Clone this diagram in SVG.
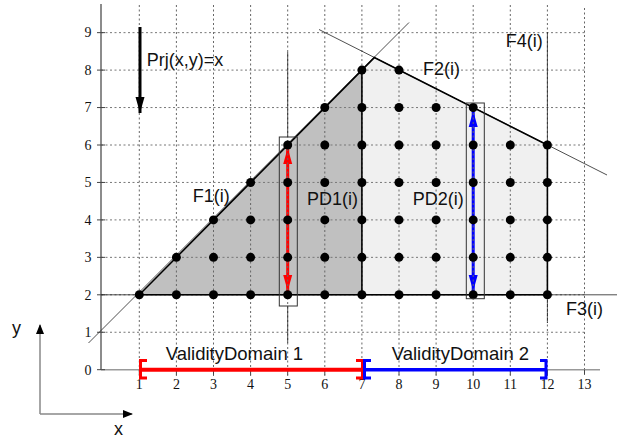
<svg xmlns="http://www.w3.org/2000/svg" width="617" height="438" viewBox="0 0 617 438">
<defs>
<style>
.gv{stroke:#666;stroke-width:1;stroke-dasharray:2 2.5;fill:none}
.gh{stroke:#777;stroke-width:1;stroke-dasharray:2 2.5;fill:none}
.bd{stroke:#000;stroke-width:1.6;fill:none}
.thin{stroke:#222;stroke-width:0.8;fill:none}
.ax{stroke:#666;stroke-width:1.5;fill:none}
.tk{stroke:#444;stroke-width:1;fill:none}
.num{font-family:"Liberation Serif",serif;font-size:14px;fill:#111;text-anchor:middle}
.lbl{font-family:"Liberation Sans",Arial,sans-serif;font-size:18px;fill:#111}
.dot{fill:#000}
.box{stroke:#333;stroke-width:1;fill:none}
</style>
<marker id="ab" viewBox="0 0 10 10" refX="9" refY="5" markerWidth="10" markerHeight="10" markerUnits="userSpaceOnUse" orient="auto"><path d="M0,1 L10,5 L0,9 z" fill="#000"/></marker>
<marker id="ar" viewBox="0 0 16 10" refX="16" refY="5" markerWidth="16" markerHeight="10" markerUnits="userSpaceOnUse" orient="auto-start-reverse"><path d="M0,0.5 L16,5 L0,9.5 z" fill="#f00"/></marker>
<marker id="abl" viewBox="0 0 16 10" refX="16" refY="5" markerWidth="16" markerHeight="10" markerUnits="userSpaceOnUse" orient="auto-start-reverse"><path d="M0,0.5 L16,5 L0,9.5 z" fill="#00f"/></marker>
<marker id="ak" viewBox="0 0 16 10" refX="16" refY="5" markerWidth="16" markerHeight="10" markerUnits="userSpaceOnUse" orient="auto"><path d="M0,0.5 L16,5 L0,9.5 z" fill="#000"/></marker>
</defs>

<g id="regions">
<polygon points="139.3,294.8 361.9,70.1 361.9,294.8" fill="#c0c0c0"/>
<polygon points="361.9,294.8 361.9,70.1 374.3,57.6 547.4,145 547.4,294.8" fill="#f0f0f0"/>
</g>

<g id="domain-arrows">
<line x1="287.7" y1="148" x2="287.7" y2="291" stroke="#f00" stroke-width="3" marker-start="url(#ar)" marker-end="url(#ar)"/>
<line x1="473.2" y1="111" x2="473.2" y2="291" stroke="#00f" stroke-width="3" marker-start="url(#abl)" marker-end="url(#abl)"/>
</g>

<g id="grid">
<path class="gv" d="M139.3,5V376M176.4,5V376M213.5,5V376M250.6,5V376M287.7,5V376M324.8,5V376M361.9,5V376M399,5V376M436.1,5V376M473.2,5V376M510.3,5V376M547.4,5V376M584.5,8V376"/>
<path class="gh" d="M101,332.25H587M101,294.8H587M101,257.35H587M101,219.9H587M101,182.45H587M101,145H587M101,107.55H587M101,70.1H587M101,32.65H587"/>
</g>

<g id="axes">
<line class="ax" x1="101" y1="4" x2="101" y2="370"/>
<line x1="101" y1="369.7" x2="600" y2="369.7" stroke="#999" stroke-width="1.5"/>
<path class="tk" d="M97,369.7H105M97,332.25H105M97,294.8H105M97,257.35H105M97,219.9H105M97,182.45H105M97,145H105M97,107.55H105M97,70.1H105M97,32.65H105"/>
<path class="tk" d="M139.3,369.7v5M176.4,369.7v5M213.5,369.7v5M250.6,369.7v5M287.7,369.7v5M324.8,369.7v5M361.9,369.7v5M399,369.7v5M436.1,369.7v5M473.2,369.7v5M510.3,369.7v5M547.4,369.7v5M584.5,369.7v5"/>
<g class="num">
<text x="88" y="374.5">0</text><text x="88" y="337">1</text><text x="88" y="299.5">2</text><text x="88" y="262">3</text><text x="88" y="224.5">4</text><text x="88" y="187">5</text><text x="88" y="149.7">6</text><text x="88" y="112.3">7</text><text x="88" y="74.8">8</text><text x="88" y="37.4">9</text>
<text x="139.3" y="389">1</text><text x="176.4" y="389">2</text><text x="213.5" y="389">3</text><text x="250.6" y="389">4</text><text x="287.7" y="389">5</text><text x="324.8" y="389">6</text><text x="361.9" y="389">7</text><text x="399" y="389">8</text><text x="436.1" y="389">9</text><text x="473.2" y="389">10</text><text x="510.3" y="389">11</text><text x="547.4" y="389">12</text><text x="584.5" y="389">13</text>
</g>
</g>

<g id="connectors">
<line class="thin" x1="88.5" y1="343" x2="409" y2="22.5"/>
<line class="thin" x1="319" y1="29.5" x2="607" y2="175"/>
<line class="thin" x1="101" y1="294.8" x2="617" y2="294.8"/>
<line class="thin" x1="547.4" y1="32" x2="547.4" y2="145"/>
<line x1="547.4" y1="295" x2="547.4" y2="323" stroke="#222" stroke-width="1" stroke-dasharray="3 1.5"/>
<line class="thin" x1="287.7" y1="52" x2="287.7" y2="137"/>
<line class="thin" x1="287.7" y1="306" x2="287.7" y2="343"/>
<polyline class="bd" points="139.3,294.8 374.3,57.6 547.4,145 547.4,294.8 139.3,294.8"/>
<line class="bd" x1="361.9" y1="70.1" x2="361.9" y2="294.8"/>
<line x1="140" y1="27" x2="140" y2="113" stroke="#000" stroke-width="3" marker-end="url(#ak)"/>
<line x1="40" y1="414" x2="40" y2="325" stroke="#888" stroke-width="1.5" marker-end="url(#ab)"/>
<line x1="40" y1="414" x2="132" y2="414" stroke="#888" stroke-width="1.5" marker-end="url(#ab)"/>
</g>

<g id="points">
<circle class="dot" cx="139.3" cy="294.8" r="4.5"/>
<circle class="dot" cx="176.4" cy="294.8" r="4.5"/><circle class="dot" cx="176.4" cy="257.35" r="4.5"/>
<circle class="dot" cx="213.5" cy="294.8" r="4.5"/><circle class="dot" cx="213.5" cy="257.35" r="4.5"/><circle class="dot" cx="213.5" cy="219.9" r="4.5"/>
<circle class="dot" cx="250.6" cy="294.8" r="4.5"/><circle class="dot" cx="250.6" cy="257.35" r="4.5"/><circle class="dot" cx="250.6" cy="219.9" r="4.5"/><circle class="dot" cx="250.6" cy="182.45" r="4.5"/>
<circle class="dot" cx="287.7" cy="294.8" r="4.5"/><circle class="dot" cx="287.7" cy="257.35" r="4.5"/><circle class="dot" cx="287.7" cy="219.9" r="4.5"/><circle class="dot" cx="287.7" cy="182.45" r="4.5"/><circle class="dot" cx="287.7" cy="145" r="4.5"/>
<circle class="dot" cx="324.8" cy="294.8" r="4.5"/><circle class="dot" cx="324.8" cy="257.35" r="4.5"/><circle class="dot" cx="324.8" cy="219.9" r="4.5"/><circle class="dot" cx="324.8" cy="182.45" r="4.5"/><circle class="dot" cx="324.8" cy="145" r="4.5"/><circle class="dot" cx="324.8" cy="107.55" r="4.5"/>
<circle class="dot" cx="361.9" cy="294.8" r="4.5"/><circle class="dot" cx="361.9" cy="257.35" r="4.5"/><circle class="dot" cx="361.9" cy="219.9" r="4.5"/><circle class="dot" cx="361.9" cy="182.45" r="4.5"/><circle class="dot" cx="361.9" cy="145" r="4.5"/><circle class="dot" cx="361.9" cy="107.55" r="4.5"/><circle class="dot" cx="361.9" cy="70.1" r="4.5"/>
<circle class="dot" cx="399" cy="294.8" r="4.5"/><circle class="dot" cx="399" cy="257.35" r="4.5"/><circle class="dot" cx="399" cy="219.9" r="4.5"/><circle class="dot" cx="399" cy="182.45" r="4.5"/><circle class="dot" cx="399" cy="145" r="4.5"/><circle class="dot" cx="399" cy="107.55" r="4.5"/><circle class="dot" cx="399" cy="70.1" r="4.5"/>
<circle class="dot" cx="436.1" cy="294.8" r="4.5"/><circle class="dot" cx="436.1" cy="257.35" r="4.5"/><circle class="dot" cx="436.1" cy="219.9" r="4.5"/><circle class="dot" cx="436.1" cy="182.45" r="4.5"/><circle class="dot" cx="436.1" cy="145" r="4.5"/><circle class="dot" cx="436.1" cy="107.55" r="4.5"/>
<circle class="dot" cx="473.2" cy="294.8" r="4.5"/><circle class="dot" cx="473.2" cy="257.35" r="4.5"/><circle class="dot" cx="473.2" cy="219.9" r="4.5"/><circle class="dot" cx="473.2" cy="182.45" r="4.5"/><circle class="dot" cx="473.2" cy="145" r="4.5"/><circle class="dot" cx="473.2" cy="107.55" r="4.5"/>
<circle class="dot" cx="510.3" cy="294.8" r="4.5"/><circle class="dot" cx="510.3" cy="257.35" r="4.5"/><circle class="dot" cx="510.3" cy="219.9" r="4.5"/><circle class="dot" cx="510.3" cy="182.45" r="4.5"/><circle class="dot" cx="510.3" cy="145" r="4.5"/>
<circle class="dot" cx="547.4" cy="294.8" r="4.5"/><circle class="dot" cx="547.4" cy="257.35" r="4.5"/><circle class="dot" cx="547.4" cy="219.9" r="4.5"/><circle class="dot" cx="547.4" cy="182.45" r="4.5"/><circle class="dot" cx="547.4" cy="145" r="4.5"/>
</g>

<g id="PD1"><rect class="box" x="279.3" y="137" width="18" height="169"/><text class="lbl" x="307" y="205">PD1(i)</text></g>
<g id="PD2"><rect class="box" x="466.3" y="103" width="18" height="195.7"/><text class="lbl" x="412.7" y="205">PD2(i)</text></g>
<g id="F1"><text class="lbl" x="192.7" y="202">F1(i)</text></g>
<g id="F2"><text class="lbl" x="423" y="75">F2(i)</text></g>
<g id="F3"><text class="lbl" x="566" y="315">F3(i)</text></g>
<g id="F4"><text class="lbl" x="505.7" y="47">F4(i)</text></g>
<g id="Prj"><text class="lbl" x="146.7" y="66">Prj(x,y)=x</text></g>

<g id="VD1">
<line x1="141" y1="369.7" x2="362" y2="369.7" stroke="#f00" stroke-width="4"/>
<path d="M147,360.5H140.5V378H147" stroke="#f00" stroke-width="3" fill="none"/>
<path d="M356,360.5H362.5V378H356" stroke="#f00" stroke-width="3" fill="none"/>
<text class="lbl" x="165.7" y="360" style="font-size:18.5px">ValidityDomain 1</text>
</g>
<g id="VD2">
<line x1="364" y1="369.7" x2="546" y2="369.7" stroke="#00f" stroke-width="3.5"/>
<path d="M371,360.5H364.5V378H371" stroke="#00f" stroke-width="3" fill="none"/>
<path d="M540,360.5H546V378H540" stroke="#00f" stroke-width="3" fill="none"/>
<text class="lbl" x="391.7" y="360" style="font-size:18.5px">ValidityDomain 2</text>
</g>

<g id="axis-legend">
<text class="lbl" x="12" y="334">y</text>
<text class="lbl" x="114" y="435">x</text>
</g>
</svg>
